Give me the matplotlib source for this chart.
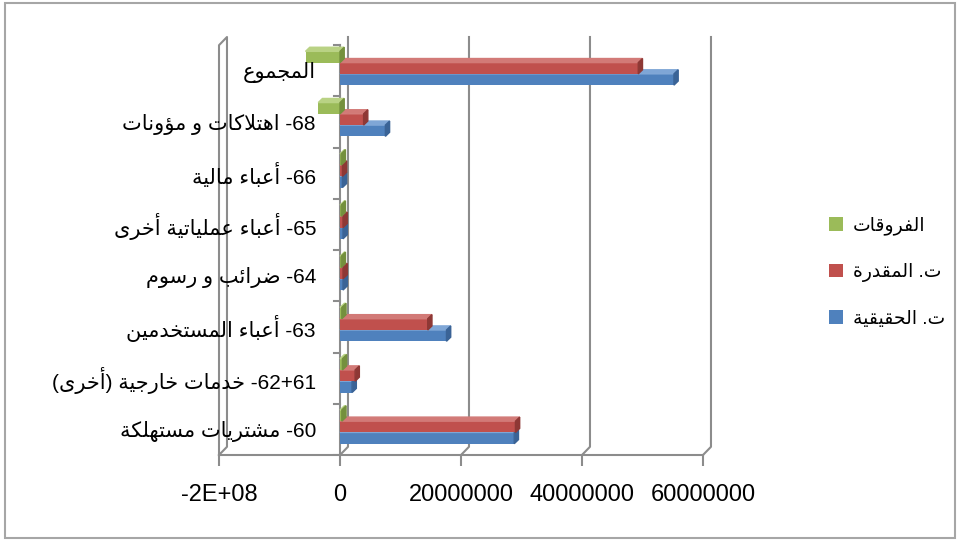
import numpy as np
import matplotlib.pyplot as plt
from matplotlib.patches import Polygon, Rectangle

# category codes and names (Arabic, logical order)
codes = ["60", "62+61", "63", "64", "65", "66", "68", ""]
names = ["مشتريات مستهلكة", "خدمات خارجية (أخرى)", "أعباء المستخدمين",
         "ضرائب و رسوم", "أعباء عملياتية أخرى", "أعباء مالية",
         "اهتلاكات و مؤونات", "المجموع"]

actual = [28.8e6, 2.0e6, 17.6e6, 0.5e6, 0.5e6, 0.4e6, 7.5e6, 55.2e6]
estimated = [29.0e6, 2.5e6, 14.5e6, 0.5e6, 0.5e6, 0.4e6, 3.9e6, 49.3e6]
diffs = [0.3e6, 0.4e6, 0.3e6, 0.2e6, 0.2e6, 0.2e6, -3.6e6, -5.7e6]
series_names = ["ت. الحقيقية", "ت. المقدرة", "الفروقات"]

xticks = [-2e7, 0, 2e7, 4e7, 6e7]
xtick_labels = ["-2E+08", "0", "20000000", "40000000", "60000000"]

# --- small arabic shaper: letters -> presentation forms, then visual order ---
ORDER = "ءآأؤإئابةتثجحخدذرزسشصضطظعغفقكلمنهوىي"
RIGHT_ONLY = "آأؤإاةدذرزوى"
FORMS = {}
code = 0xFE80
for ch in ORDER:
    n = 1 if ch == "ء" else (2 if ch in RIGHT_ONLY else 4)
    FORMS[ch] = (code, n)
    code += n
LAM_ALEF = {"آ": 0xFEF5, "أ": 0xFEF7, "إ": 0xFEF9, "ا": 0xFEFB}


def dual(c):
    return c in FORMS and FORMS[c][1] == 4


def shape(s):
    out = []
    i = 0
    while i < len(s):
        c = s[i]
        if c not in FORMS:
            out.append(c)
            i += 1
            continue
        prev = i > 0 and dual(s[i - 1])
        if c == "ل" and i + 1 < len(s) and s[i + 1] in LAM_ALEF:
            out.append(chr(LAM_ALEF[s[i + 1]] + (1 if prev else 0)))
            i += 2
            continue
        nxt = dual(c) and i + 1 < len(s) and s[i + 1] in FORMS
        base, n = FORMS[c]
        if n == 1:
            k = 0
        elif n == 2:
            k = 1 if prev else 0
        else:
            k = {(False, False): 0, (True, False): 1,
                 (False, True): 2, (True, True): 3}[(prev, nxt)]
        out.append(chr(base + k))
        i += 1
    mirror = {"(": ")", ")": "("}
    return "".join(mirror.get(c, c) for c in reversed(out))


labels = [shape(n) + (" -" + c if c else "") for n, c in zip(names, codes)]

plt.rcParams['font.family'] = ['Liberation Sans', 'DejaVu Sans']

fig = plt.figure(figsize=(9.61, 5.40), dpi=100)
ax = fig.add_axes([219 / 961, 1 - 455 / 540, 484 / 961, 418 / 540])
ax.set_xlim(-2e7, 6e7)
ax.set_ylim(-0.5, 7.66)
for s in ax.spines.values():
    s.set_visible(False)

grey = "#8c8c8c"
dx, dy = 1.32e6, 0.16
y0 = -0.5

# back wall gridlines with a short slant down to the floor
for v in xticks[1:]:
    ax.plot([v + dx, v + dx, v], [7.66, y0 + dy, y0], color=grey, lw=1.5,
            clip_on=False, zorder=1)
# left wall
w = xticks[0]
ax.plot([w, w, w + dx, w + dx, w], [y0, 7.5, 7.66, y0 + dy, y0],
        color=grey, lw=1.5, clip_on=False, zorder=1)
# floor
ax.plot([xticks[0], xticks[-1]], [y0, y0], color=grey, lw=1.5,
        clip_on=False, zorder=1)
# category axis at zero
ax.plot([0, 0], [y0, 7.5], color=grey, lw=1.5, zorder=1)
for b in np.arange(-0.5, 8.0, 1.0):
    ax.plot([-1.0e6, 0], [b, b], color=grey, lw=1.5, zorder=1)

y = np.arange(len(names))
h = 0.22
dxb, dyb = 0.7e6, 0.08
series = [
    (actual, -0.17, "#4F81BD", "#7FA6D6", "#3A6396"),
    (estimated, 0.05, "#C0504D", "#D27A77", "#8E3835"),
    (diffs, 0.27, "#9BBB59", "#B9D284", "#74903D"),
]
handles = []
for vals, off, front, top, side in series:
    bars = ax.barh(y + off, vals, height=h, color=front, zorder=3)
    handles.append(bars)
    for yi, v in zip(y + off, vals):
        yt = yi + h / 2
        yb = yi - h / 2
        lo, hi = min(0, v), max(0, v)
        ax.add_patch(Polygon([(lo, yt), (lo + dxb, yt + dyb), (hi + dxb, yt + dyb),
                              (hi, yt)], closed=True, color=top, zorder=3))
        ax.add_patch(Polygon([(hi, yb), (hi + dxb, yb + dyb), (hi + dxb, yt + dyb),
                              (hi, yt)], closed=True, color=side, zorder=3))

# category names next to the zero line
for yi, lab in zip(y, labels):
    ax.annotate(lab, xy=(0, yi), xytext=(-24, -2), textcoords='offset pixels',
                ha='right', va='center', fontsize=15, color='black', zorder=4)

ax.set_yticks([])
ax.set_xticks(xticks)
ax.set_xticklabels(xtick_labels, fontsize=17)
ax.tick_params(axis='x', direction='out', length=8, width=1.5, color=grey, pad=13)

leg = fig.legend(handles[::-1], [shape(s) for s in series_names[::-1]],
                 loc='upper left', bbox_to_anchor=(820 / 961, 1 - 207 / 540),
                 frameon=False, fontsize=13.5, handlelength=0.75, handleheight=0.75,
                 handletextpad=0.5, labelspacing=1.5, borderpad=0)

fig.add_artist(Rectangle((5 / 961, 2 / 540), 950 / 961, 535 / 540,
                         transform=fig.transFigure, fill=False,
                         ec='#a6a6a6', lw=1.5))

fig.savefig("out.png", dpi=100)
